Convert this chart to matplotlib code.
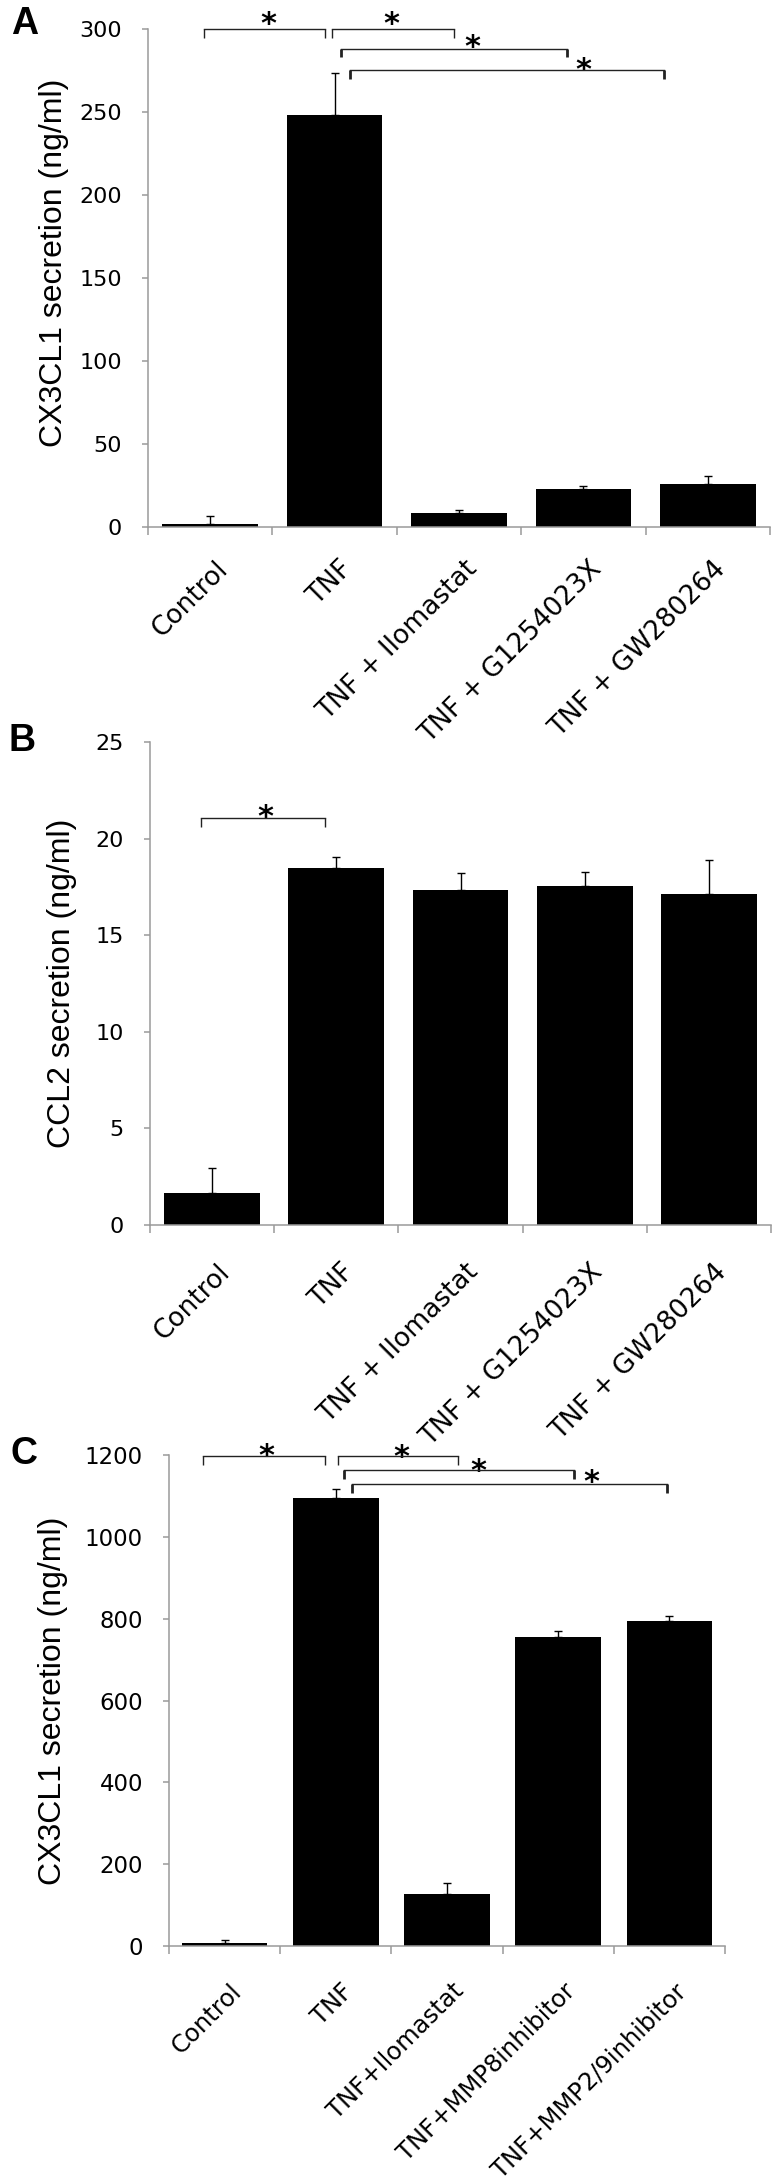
import numpy as np
import matplotlib
matplotlib.use("Agg")
import matplotlib.pyplot as plt
from matplotlib.transforms import ScaledTranslation

# Kategorien
labels_ab = ["Control", "TNF", "TNF + Ilomastat", "TNF + G1254023X", "TNF + GW280264"]
labels_c = ["Control", "TNF", "TNF+Ilomastat", "TNF+MMP8inhibitor", "TNF+MMP2/9inhibitor"]

# Werte (ng/ml) und SEM (nur nach oben)
cx3cl1_a = [2.0, 248, 8.6, 22.6, 26.0]
cx3cl1_a_err = [4.4, 25.5, 1.6, 2.0, 5.0]
ccl2_b = [1.65, 18.5, 17.35, 17.55, 17.15]
ccl2_b_err = [1.3, 0.57, 0.86, 0.74, 1.76]
cx3cl1_c = [8, 1094, 127, 756, 794]
cx3cl1_c_err = [7, 24, 28, 15, 13]

# Signifikanz-Klammern: (x links, x rechts, y Linie, y Beinende), Sterne: (x, y)
brackets_a = [(-0.05, 0.92, 300, 294.6), (0.98, 1.96, 300, 294.6),
              (1.05, 2.87, 287.8, 283.0), (1.12, 3.65, 275.1, 269.7)]
stars_a = [(0.47, 308.4), (1.46, 308.4), (2.11, 294.6), (3.0, 280.7)]
brackets_b = [(-0.09, 0.91, 21.07, 20.6)]
stars_b = [(0.43, 21.6)]
brackets_c = [(-0.19, 0.90, 1197.6, 1175.5), (1.02, 2.10, 1197.6, 1175.5),
              (1.07, 3.14, 1163.3, 1141), (1.15, 3.98, 1129, 1107)]
stars_c = [(0.38, 1219.6), (1.59, 1217), (2.28, 1183), (3.30, 1156)]

GRAY = "#9a9a9a"
W, H = 772, 2181

fig = plt.figure(figsize=(W / 100, H / 100), dpi=100)


def make_panel(rect_px, values, errs, labels, ymax, ystep, ylabel, ylabel_xy,
               brackets, stars, ytick_size, xtick_size, xpad_px, letter, letter_xy):
    left, top, right, bottom = rect_px
    ax = fig.add_axes([left / W, 1 - bottom / H, (right - left) / W, (bottom - top) / H])
    x = np.arange(len(values))
    ax.bar(x, values, width=0.77, color="black", zorder=2)
    ax.errorbar(x, values, yerr=[np.zeros(len(errs)), errs], fmt="none",
                ecolor="black", elinewidth=1.0, capsize=2.6, capthick=1.0, zorder=3)
    ax.set_xlim(-0.5, len(values) - 0.5)
    ax.set_ylim(0, ymax)
    ax.set_yticks(np.arange(0, ymax + ystep / 2, ystep))
    for s in ["top", "right"]:
        ax.spines[s].set_visible(False)
    for s in ["left", "bottom"]:
        ax.spines[s].set_color(GRAY)
        ax.spines[s].set_linewidth(1.1)
    ax.tick_params(axis="y", length=4.3, width=1.1, color=GRAY, pad=14.4,
                   labelsize=ytick_size)
    # Striche an den Kategoriegrenzen, Beschriftung in der Mitte
    ax.set_xticks(np.arange(-0.5, len(values), 1.0))
    ax.set_xticklabels([])
    ax.set_xticks(x, labels, minor=True)
    ax.tick_params(axis="x", which="major", length=6, width=1.1, color=GRAY)
    ax.tick_params(axis="x", which="minor", length=0, pad=xpad_px * 0.72,
                   labelsize=xtick_size)
    shift = ScaledTranslation(5 / 100, 0, fig.dpi_scale_trans)
    for lab in ax.get_xticklabels(minor=True):
        lab.set_rotation(45)
        lab.set_ha("right")
        lab.set_va("top")
        lab.set_rotation_mode("anchor")
        lab.set_transform(lab.get_transform() + shift)
    ax.set_ylabel(ylabel, fontsize=23, family="Liberation Sans", va="center")
    ax.yaxis.set_label_coords(*ylabel_xy)

    for i, (x0, x1, y, yl) in enumerate(brackets):
        thick = i >= 2
        ax.plot([x0, x1], [y, y], color="#222222", lw=1.0, clip_on=False, zorder=4)
        for xx in (x0, x1):
            ax.plot([xx, xx], [y, yl], color="#222222", lw=2.0 if thick else 1.0,
                    clip_on=False, zorder=4, solid_capstyle="butt")
    for sx, sy in stars:
        ax.annotate("*", xy=(sx, sy), xytext=(0, -13), textcoords="offset points",
                    ha="center", va="baseline", fontsize=22, fontweight="bold",
                    annotation_clip=False)

    fig.text(letter_xy[0] / W, 1 - letter_xy[1] / H, letter, fontsize=27,
             fontweight="bold", family="Liberation Sans", ha="center", va="center")
    return ax


make_panel((148, 29, 770, 527), cx3cl1_a, cx3cl1_a_err, labels_ab, 300, 50,
           "CX3CL1 secretion (ng/ml)", (-0.151, 0.53), brackets_a, stars_a,
           16, 19, 29, "A", (25, 24))
make_panel((150, 742, 771, 1225), ccl2_b, ccl2_b_err, labels_ab, 25, 5,
           "CCL2 secretion (ng/ml)", (-0.142, 0.5), brackets_b, stars_b,
           16, 19, 34, "B", (22, 741))
make_panel((169, 1455, 725, 1946), cx3cl1_c, cx3cl1_c_err, labels_c, 1200, 200,
           "CX3CL1 secretion (ng/ml)", (-0.209, 0.5), brackets_c, stars_c,
           16.5, 17.5, 33, "C", (24, 1454))

fig.savefig("out.png", dpi=100)
